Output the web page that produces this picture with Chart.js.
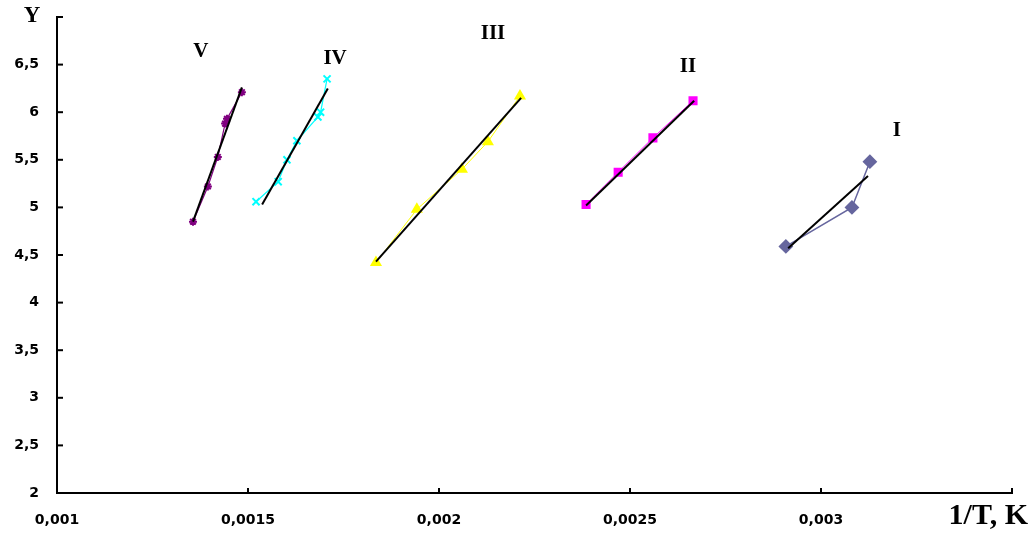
<!DOCTYPE html>
<html>
<head>
<meta charset="utf-8">
<script src="https://cdn.jsdelivr.net/npm/chart.js@4/dist/chart.umd.min.js"></script>
<style>
  html, body { margin: 0; padding: 0; background: #fff; }
  #wrap { width: 1033px; height: 535px; }
</style>
</head>
<body>
<div id="wrap"><canvas id="grafico"></canvas></div>
<script>
// ejes
const xTickValues = [0.001, 0.0015, 0.002, 0.0025, 0.003, 0.0035];
const xTickLabels = ['0,001', '0,0015', '0,002', '0,0025', '0,003', ''];
const yTickValues = [2, 2.5, 3, 3.5, 4, 4.5, 5, 5.5, 6, 6.5, 7];
const yTickLabels = ['2', '2,5', '3', '3,5', '4', '4,5', '5', '5,5', '6', '6,5', ''];

// series
const seriesNames = ['I', 'II', 'III', 'IV', 'V'];
const xI = [0.002908, 0.003081, 0.003128];
const yI = [4.59, 5.00, 5.48];
const xII = [0.002385, 0.002469, 0.00256, 0.002665];
const yII = [5.03, 5.37, 5.73, 6.12];
const xIII = [0.001835, 0.001942, 0.00206, 0.002128, 0.002212];
const yIII = [4.42, 4.98, 5.40, 5.69, 6.17];
const xIV = [0.001521, 0.001579, 0.001602, 0.001628, 0.001683, 0.00169, 0.001707];
const yIV = [5.06, 5.27, 5.50, 5.70, 5.95, 6.00, 6.35];
const xV = [0.001356, 0.001395, 0.001421, 0.00144, 0.001445, 0.001484];
const yV = [4.85, 5.22, 5.53, 5.88, 5.93, 6.21];

// lineas de tendencia (extremos)
const trendX = [[0.002914, 0.003123], [0.002385, 0.002668], [0.001835, 0.002215], [0.001537, 0.001709], [0.001356, 0.001484]];
const trendY = [[4.57, 5.33], [5.02, 6.12], [4.43, 6.15], [5.03, 6.25], [4.85, 6.26]];

const pares = (xs, ys) => xs.map((x, i) => ({ x: x, y: ys[i] }));

const estilos = [
    { color: '#66669e', punto: 'rectRot', radio: 6, linea: 1.5 },
    { color: '#ff00ff', punto: 'rect', radio: 5, linea: 1 },
    { color: '#ffff00', punto: 'triangle', radio: 5, linea: 1 },
    { color: '#00ffff', punto: 'crossRot', radio: 5, linea: 1.2 },
    { color: '#800080', punto: 'star', radio: 4, linea: 1.2 }
];
const datosSeries = [pares(xI, yI), pares(xII, yII), pares(xIII, yIII), pares(xIV, yIV), pares(xV, yV)];

const datasets = [];
datosSeries.forEach((d, i) => {
    const e = estilos[i];
    datasets.push({
        label: seriesNames[i],
        data: d,
        showLine: true,
        borderColor: e.color,
        borderWidth: e.linea,
        backgroundColor: e.color,
        pointStyle: e.punto,
        pointRadius: e.radio,
        pointBorderColor: e.color,
        pointBackgroundColor: e.color,
        pointBorderWidth: 2,
        order: 2
    });
});
trendX.forEach((tx, i) => {
    datasets.push({
        label: 'tendencia ' + seriesNames[i],
        data: pares(tx, trendY[i]),
        showLine: true,
        borderColor: '#000',
        borderWidth: 2,
        pointRadius: 0,
        order: 1
    });
});

// desplazamiento de las etiquetas respecto al ultimo punto de cada serie
const desplaz = [[27, -31], [-5, -34], [-27, -62], [8, -20], [-41, -41]];

const plugExtras = {
    id: 'extras',
    afterDraw(c) {
        const ctx = c.ctx;
        const xs = c.scales.x, ys = c.scales.y;
        const a = c.chartArea;
        ctx.save();
        ctx.strokeStyle = '#000';
        ctx.lineWidth = 2;
        xs.ticks.forEach(t => {
            const px = xs.getPixelForValue(t.value);
            ctx.beginPath(); ctx.moveTo(px, a.bottom); ctx.lineTo(px, a.bottom - 5); ctx.stroke();
        });
        ys.ticks.forEach(t => {
            const py = ys.getPixelForValue(t.value);
            ctx.beginPath(); ctx.moveTo(a.left, py); ctx.lineTo(a.left + 6, py); ctx.stroke();
        });

        ctx.fillStyle = '#000';
        ctx.textAlign = 'center';
        ctx.textBaseline = 'middle';
        ctx.font = 'bold 21px "Liberation Serif"';
        datosSeries.forEach((d, i) => {
            const ult = d[d.length - 1];
            const px = xs.getPixelForValue(ult.x) + desplaz[i][0];
            const py = ys.getPixelForValue(ult.y) + desplaz[i][1];
            ctx.fillText(seriesNames[i], px, py);
        });

        ctx.font = 'bold 23px "Liberation Serif"';
        ctx.fillText('Y', a.left - 25, a.top - 1);
        ctx.font = 'bold 30px "Liberation Serif"';
        ctx.textAlign = 'right';
        ctx.fillText('1/T, K', 1028, a.bottom + 23);
        ctx.restore();
    }
};

new Chart(document.getElementById('grafico'), {
    type: 'scatter',
    data: { datasets: datasets },
    options: {
        responsive: true,
        maintainAspectRatio: false,
        animation: false,
        layout: { padding: { top: 17, right: 21, left: 0, bottom: 0 } },
        plugins: { legend: { display: false }, tooltip: { enabled: false } },
        scales: {
            x: {
                type: 'linear',
                min: 0.001,
                max: 0.0035,
                afterBuildTicks: s => { s.ticks = xTickValues.map(v => ({ value: v })); },
                afterFit: s => { s.height = 42; s.paddingLeft = 0; s.paddingRight = 0; },
                grid: { display: false, drawTicks: false },
                border: { display: true, color: '#000', width: 2 },
                ticks: {
                    color: '#000',
                    padding: 19,
                    maxRotation: 0,
                    autoSkip: false,
                    font: { family: 'DejaVu Sans', weight: 'bold', size: 14 },
                    callback: (v, i) => xTickLabels[i]
                }
            },
            y: {
                type: 'linear',
                min: 2,
                max: 7,
                afterBuildTicks: s => { s.ticks = yTickValues.map(v => ({ value: v })); },
                afterFit: s => { s.width = 57; s.paddingTop = 0; s.paddingBottom = 0; },
                grid: { display: false, drawTicks: false },
                border: { display: true, color: '#000', width: 2 },
                ticks: {
                    color: '#000',
                    padding: 18,
                    autoSkip: false,
                    font: { family: 'DejaVu Sans', weight: 'bold', size: 14 },
                    callback: (v, i) => yTickLabels[i]
                }
            }
        }
    },
    plugins: [plugExtras]
});
</script>
</body>
</html>
